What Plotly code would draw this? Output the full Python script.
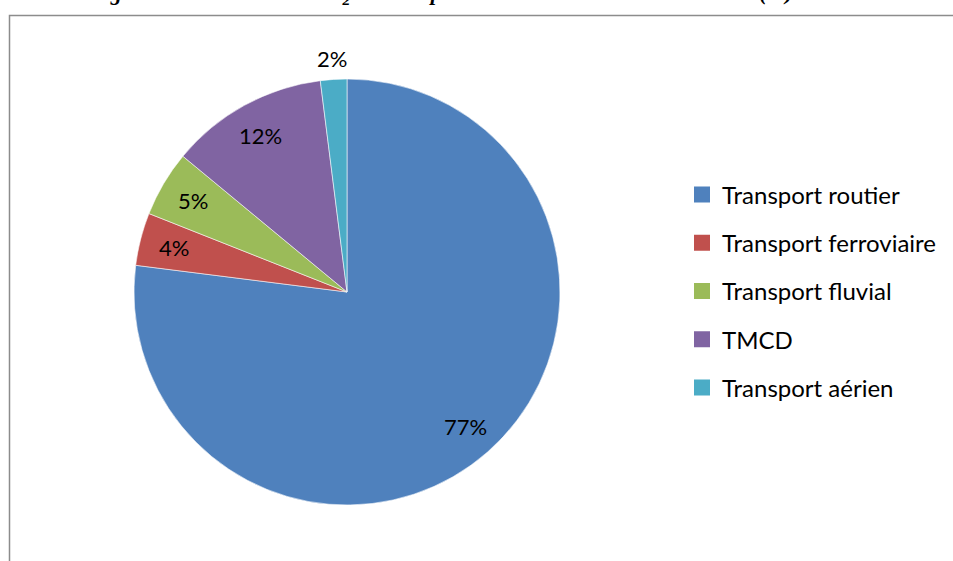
import math
import plotly.graph_objects as go

# ---- data ----
labels = ["Transport routier", "Transport ferroviaire", "Transport fluvial", "TMCD", "Transport aérien"]
values = [77, 4, 5, 12, 2]
colors = ["#4F81BD", "#C0504D", "#9BBB59", "#8064A2", "#4BACC6"]
title_text = "Figure 3 : Émissions de CO<sub>2</sub> du transport de marchandises selon le mode (%)"

# ---- geometry ----
W, H = 953, 561
CX, CY, R = 347, 292, 213  # pie centre / radius in px

FONT = "Lato, 'Open Sans', sans-serif"

fig = go.Figure()
fig.add_trace(go.Pie(
    labels=labels, values=values, sort=False, direction="clockwise", rotation=0,
    marker=dict(colors=colors, line=dict(color="rgba(255,255,255,0.7)", width=0.8)),
    textinfo="none", showlegend=False, hoverinfo="label+percent",
    domain=dict(x=[(CX - R) / W, (CX + R) / W], y=[(H - CY - R) / H, (H - CY + R) / H]),
))

# legend entries (one per slice, same colours)
for lab, col in zip(labels, colors):
    fig.add_trace(go.Scatter(
        x=[None], y=[None], mode="markers", name=lab, legendgroup=lab,
        marker=dict(symbol="square", size=16, color=col), showlegend=True, hoverinfo="skip",
    ))

# percentage labels, positioned from the data
total = sum(values)
cum = 0
annotations = []
for v in values:
    mid = (cum + v / 2) / total * 2 * math.pi
    cum += v
    frac = 1.1 if v / total < 0.03 else 0.84
    px = CX + frac * R * math.sin(mid)
    py = CY - frac * R * math.cos(mid)
    annotations.append(dict(
        x=px / W, y=(H - py) / H, xref="paper", yref="paper",
        text=f"{round(v / total * 100)}%", showarrow=False,
        font=dict(family=FONT, size=22, color="#000000"),
        xanchor="center", yanchor="middle",
    ))

annotations.append(dict(
    x=441 / W, y=1 + 6.5 / H, xref="paper", yref="paper", text="<b><i>" + title_text + "</i></b>",
    showarrow=False, xanchor="center", yanchor="middle",
    font=dict(family="'Liberation Serif', 'Times New Roman', serif", size=22, color="#000000"),
))

fig.update_layout(
    width=W, height=H,
    margin=dict(l=0, r=0, t=0, b=0),
    paper_bgcolor="white", plot_bgcolor="white",
    xaxis=dict(visible=False), yaxis=dict(visible=False),
    showlegend=True,
    legend=dict(
        x=682 / W, y=(H - 172.5) / H, xanchor="left", yanchor="top",
        traceorder="grouped", tracegroupgap=14,
        font=dict(family=FONT, size=24, color="#000000"),
        bgcolor="rgba(0,0,0,0)",
    ),
    annotations=annotations,
    shapes=[dict(type="rect", xref="paper", yref="paper",
                 x0=9.5 / W, x1=1.05, y0=-0.05, y1=(H - 15.5) / H,
                 line=dict(color="#8C8C8C", width=1.5), fillcolor="rgba(0,0,0,0)", layer="below")],
)

fig.write_html(
    "out.html",
    config={"displayModeBar": False},
    post_script="document.body.style.margin='0';document.body.style.overflow='hidden';",
)
